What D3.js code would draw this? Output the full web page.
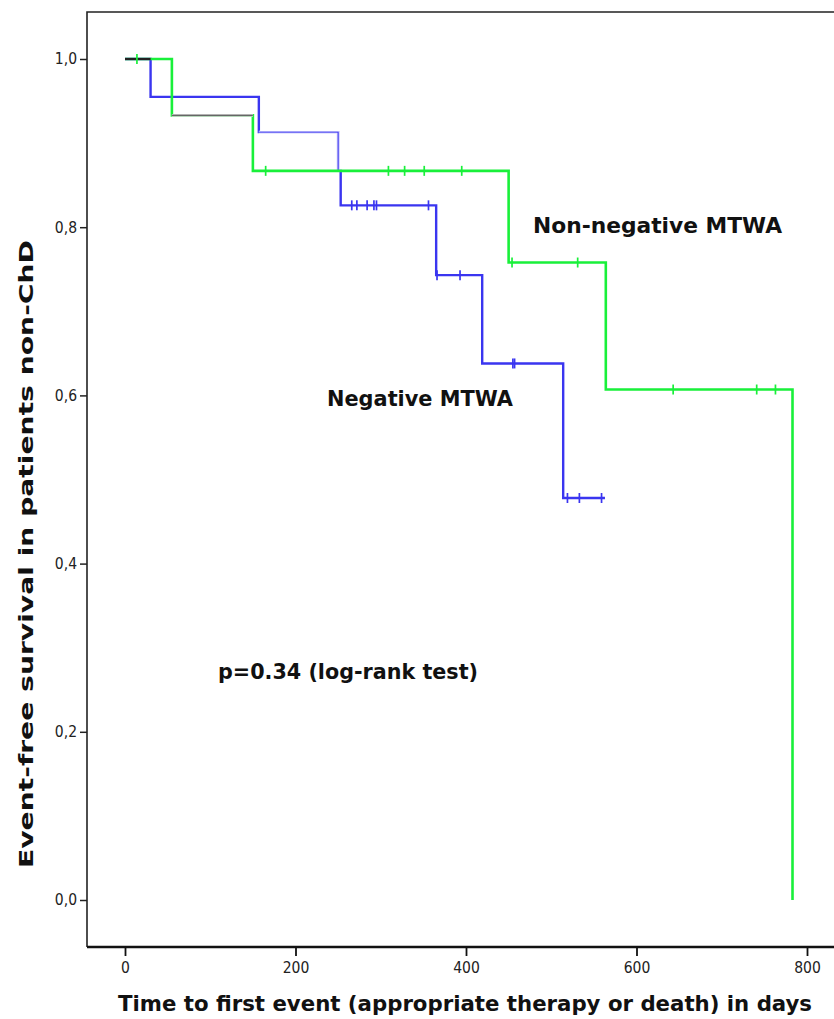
<!DOCTYPE html>
<html><head><meta charset="utf-8">
<script src="https://cdn.jsdelivr.net/npm/d3@7"></script>
<style>
html,body{margin:0;padding:0;background:#fff;}
svg{display:block;}
</style></head>
<body>
<svg id="chart" width="834" height="1019"></svg>
<script>
// ---- data ----
const groupNames = ["Negative MTWA", "Non-negative MTWA"];
// Negative MTWA (blue)
const negTimes = [0, 30, 157, 250, 253, 365, 419, 514];
const negSurv  = [1.0, 0.955, 0.913, 0.867, 0.826, 0.743, 0.638, 0.478];
const negCensored = [266, 272, 284, 292, 295, 356, 366, 393, 455, 457, 519, 533, 559];
const negEnd = 563;
// Non-negative MTWA (green)
const nonTimes = [0, 55, 150, 450, 564, 783];
const nonSurv  = [1.0, 0.933, 0.867, 0.758, 0.607, 0.0];
const nonCensored = [14, 165, 309, 328, 351, 395, 454, 531, 643, 741, 763];
const nonEnd = 783;
const xTicks = [0, 200, 400, 600, 800];
const yTicks = [0, 0.2, 0.4, 0.6, 0.8, 1.0];
const xTitle = "Time to first event (appropriate therapy or death) in days";
const yTitle = "Event-free survival in patients non-ChD";
const pText = "p=0.34 (log-rank test)";

const svg = d3.select("#chart");
const x = d3.scaleLinear().domain([0, 800]).range([125, 807]);
const y = d3.scaleLinear().domain([0, 1]).range([900, 59]);

const frameL = 87, frameT = 12, frameB = 947, frameR = 840;

// frame
svg.append("path")
  .attr("d", `M${frameR},${frameT}H${frameL}V${frameB}`)
  .attr("fill", "none").attr("stroke", "#222").attr("stroke-width", 1.6);

const tickFont = "'DejaVu Sans Condensed', 'DejaVu Sans', sans-serif";

// y axis ticks
const yAxis = d3.axisLeft(y).tickValues(yTicks).tickSize(7).tickPadding(3)
  .tickFormat(d => d3.format(".1f")(d).replace(".", ","));
const gy = svg.append("g").attr("transform", `translate(${frameL},0)`).call(yAxis);
gy.select(".domain").remove();
gy.selectAll("line").attr("stroke", "#222").attr("stroke-width", 1.5);
gy.selectAll("text").attr("font-family", tickFont)
  .attr("font-size", 15.5).attr("fill", "#222");

// x axis
const xAxis = d3.axisBottom(x).tickValues(xTicks).tickSize(9).tickPadding(6);
const gx = svg.append("g").attr("transform", `translate(0,${frameB})`).call(xAxis);
gx.select(".domain").remove();
gx.selectAll("line").attr("stroke", "#111").attr("stroke-width", 1.8);
gx.selectAll("text").attr("font-family", tickFont)
  .attr("font-size", 15.5).attr("fill", "#222");
svg.append("line").attr("x1", frameL).attr("x2", frameR).attr("y1", frameB).attr("y2", frameB)
  .attr("stroke", "#111").attr("stroke-width", 2.4);

// step path builder
function stepPoints(times, surv, end) {
  const pts = [];
  for (let i = 0; i < times.length; i++) {
    if (i > 0) pts.push([times[i], surv[i - 1]]);
    pts.push([times[i], surv[i]]);
  }
  if (end > times[times.length - 1]) pts.push([end, surv[surv.length - 1]]);
  return pts;
}
const line = d3.line().x(d => x(d[0])).y(d => y(d[1]));

const blue = "#3a35f0", green = "#19f03a";

// blue curve
svg.append("path").datum(stepPoints(negTimes, negSurv, negEnd))
  .attr("d", line).attr("fill", "none").attr("stroke", blue).attr("stroke-width", 2.4);
// thinner blue segment (third level)
const thinSeg = [[negTimes[2], negSurv[2]], [negTimes[3], negSurv[2]], [negTimes[3], negSurv[3]]];
svg.append("path").datum(thinSeg)
  .attr("d", line).attr("fill", "none").attr("stroke", "#fff").attr("stroke-width", 2.6);
svg.append("path").datum(thinSeg)
  .attr("d", line).attr("fill", "none").attr("stroke", "#4b46f2").attr("stroke-width", 1.4);

// green curve
svg.append("path").datum(stepPoints(nonTimes, nonSurv, nonEnd))
  .attr("d", line).attr("fill", "none").attr("stroke", green).attr("stroke-width", 2.6);
// grey segment on second green level
const greySeg = [[nonTimes[1], nonSurv[1]], [nonTimes[2], nonSurv[1]]];
svg.append("path").datum(greySeg)
  .attr("d", line).attr("fill", "none").attr("stroke", "#fff").attr("stroke-width", 2.8);
svg.append("path").datum(greySeg)
  .attr("d", line).attr("fill", "none").attr("stroke", "#666").attr("stroke-width", 1.9);

// shared start segment (both curves coincide) drawn black
const shared = d3.min([negTimes[1], nonTimes[1]]);
svg.append("path").datum([[0, 1], [shared, 1]])
  .attr("d", line).attr("fill", "none").attr("stroke", "#222").attr("stroke-width", 2.2);

// censor marks
function survAt(times, surv, t) {
  let s = surv[0];
  for (let i = 0; i < times.length; i++) if (times[i] <= t) s = surv[i];
  return s;
}
svg.append("g").selectAll("line").data(negCensored).join("line")
  .attr("x1", d => x(d)).attr("x2", d => x(d))
  .attr("y1", d => y(survAt(negTimes, negSurv, d)) - 5)
  .attr("y2", d => y(survAt(negTimes, negSurv, d)) + 5)
  .attr("stroke", blue).attr("stroke-width", 1.7);
svg.append("g").selectAll("line").data(nonCensored).join("line")
  .attr("x1", d => x(d)).attr("x2", d => x(d))
  .attr("y1", d => y(survAt(nonTimes, nonSurv, d)) - 5)
  .attr("y2", d => y(survAt(nonTimes, nonSurv, d)) + 5)
  .attr("stroke", green).attr("stroke-width", 1.7);

// annotations
const bold = "'DejaVu Sans', Verdana, sans-serif";
function note(txt, xPos, yPos, len) {
  svg.append("text").attr("x", xPos).attr("y", yPos).text(txt)
    .attr("font-family", bold).attr("font-weight", "bold").attr("font-size", 21.5).attr("fill", "#111")
    .attr("textLength", len).attr("lengthAdjust", "spacingAndGlyphs");
}
note(groupNames[1], 533, 233, 249);
note(groupNames[0], 327, 406, 186);
note(pText, 218, 679, 260);

// axis titles
svg.append("text").attr("x", 465).attr("y", 1011).attr("text-anchor", "middle").text(xTitle)
  .attr("font-family", tickFont)
  .attr("font-weight", "bold").attr("font-size", 22).attr("fill", "#111")
  .attr("textLength", 694).attr("lengthAdjust", "spacingAndGlyphs");
svg.append("text").attr("transform", "translate(33,554) rotate(-90)").attr("text-anchor", "middle").text(yTitle)
  .attr("font-family", tickFont)
  .attr("font-weight", "bold").attr("font-size", 20).attr("fill", "#111")
  .attr("textLength", 628).attr("lengthAdjust", "spacingAndGlyphs");
</script>
</body></html>
